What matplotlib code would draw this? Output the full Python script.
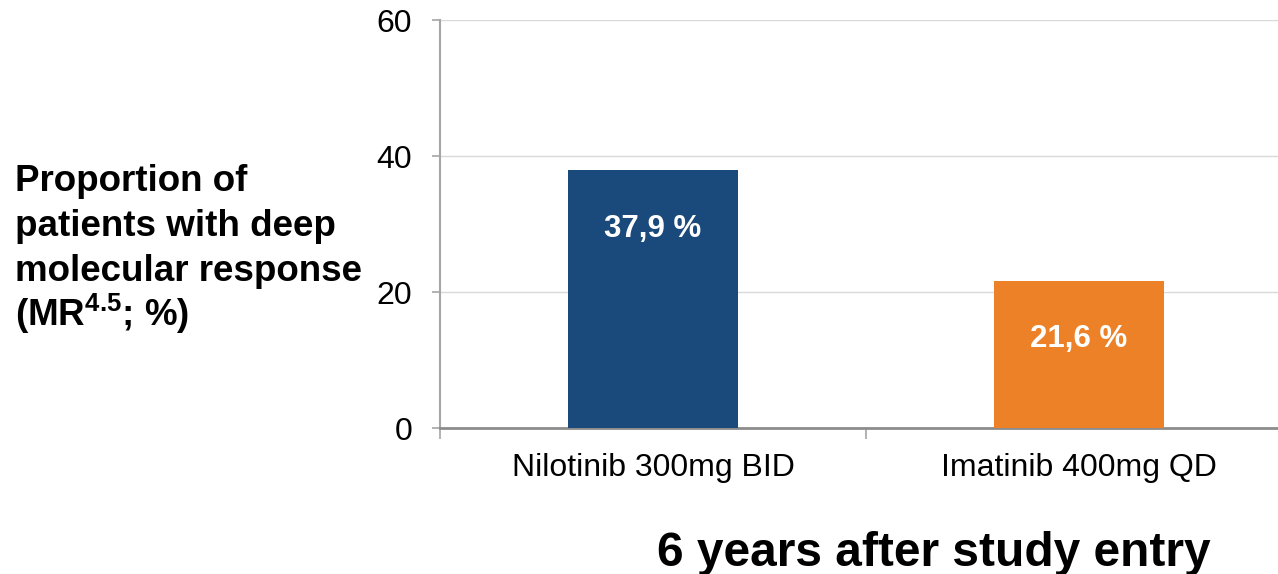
import matplotlib.pyplot as plt

plt.rcParams['font.family'] = ['Liberation Sans', 'DejaVu Sans']
plt.rcParams['mathtext.fontset'] = 'custom'
plt.rcParams['mathtext.rm'] = 'Liberation Sans'
plt.rcParams['mathtext.bf'] = 'Liberation Sans:bold'

# Data
treatments = ['Nilotinib 300mg BID', 'Imatinib 400mg QD']
mr45 = [37.9, 21.6]
value_labels = ['37,9 %', '21,6 %']
bar_colors = ['#1a4a7c', '#ec8128']
yticks = [0, 20, 40, 60]

fig = plt.figure(figsize=(12.78, 5.74), dpi=100)
ax = fig.add_axes([440 / 1278, 1 - 428 / 574, 852 / 1278, 408 / 574])

xpos = range(len(treatments))
bars = ax.bar(xpos, mr45, width=0.4, color=bar_colors, zorder=3)

for b, txt in zip(bars, value_labels):
    ax.annotate(txt, (b.get_x() + b.get_width() / 2, b.get_height()),
                xytext=(0, -42), textcoords='offset points',
                ha='center', va='center', color='white',
                fontsize=22.5, fontweight='bold', zorder=4)

ax.set_xlim(-0.5, 1.5)
ax.set_ylim(0, 60)
ax.set_yticks(yticks)
ax.set_xticks(xpos)
ax.set_xticklabels(treatments)
ax.tick_params(axis='y', labelsize=23, length=6, width=1.2, color='#a6a6a6', pad=14)
ax.tick_params(axis='x', labelsize=23, length=0, pad=18)
# category boundary ticks below the x axis
ax.set_xticks([-0.5, 0.5, 1.5], minor=True)
ax.tick_params(axis='x', which='minor', length=8, width=1.2, color='#a6a6a6')

ax.grid(axis='y', color='#d9d9d9', linewidth=1, zorder=0)
for s in ['top', 'right']:
    ax.spines[s].set_visible(False)
ax.spines['left'].set_color('#a6a6a6')
ax.spines['left'].set_linewidth(1.5)
ax.spines['bottom'].set_color('#8c8c8c')
ax.spines['bottom'].set_linewidth(2)

ylabel_lines = ['Proportion of', 'patients with deep', 'molecular response',
                r'(MR$^{\mathbf{4.5}}$; %)']
for i, line in enumerate(ylabel_lines):
    fig.text(15 / 1278, 1 - (191 + 45 * i) / 574, line, fontsize=26.5,
             fontweight='bold', ha='left', va='baseline')

fig.text(934 / 1278, 1 - 553 / 574, '6 years after study entry', fontsize=34.5,
         fontweight='bold', ha='center', va='center')

fig.savefig('out.png', dpi=100)
